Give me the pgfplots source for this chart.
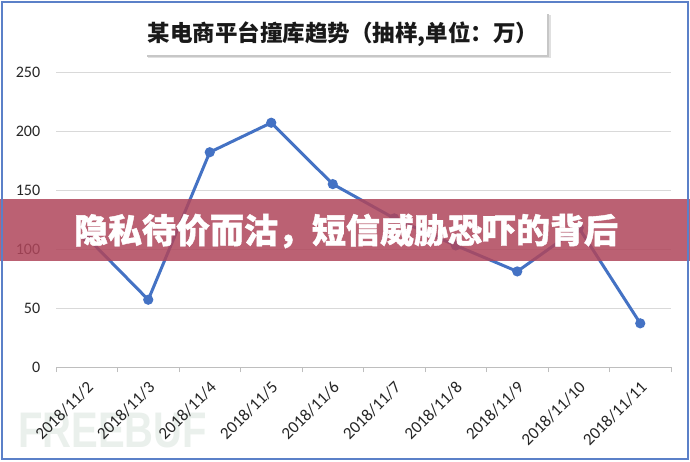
\documentclass[border=0pt]{standalone}
\usepackage{fontspec}
\setmainfont{Carlito}
\newfontfamily\cjk{Noto Sans CJK SC}
\newfontfamily\cjkheavy[BoldFeatures={FakeBold=1.2}]{Noto Sans CJK SC}
\newfontfamily\wm{Liberation Sans}
\usepackage{pgfplots}
\pgfplotsset{compat=1.18}
\definecolor{lineblue}{RGB}{68,114,196}
\definecolor{bannerc}{RGB}{176,70,91}
\definecolor{gridc}{RGB}{217,217,217}
\definecolor{frameblue}{RGB}{91,128,200}
\definecolor{wmc}{RGB}{234,240,236}
\begin{document}
\begin{tikzpicture}[x=1pt,y=1pt]
\path[use as bounding box] (0,0) rectangle (690,461);
\fill[white] (0,0) rectangle (690,461);
\node[anchor=south west, inner sep=0, text=wmc, font=\wm\bfseries\fontsize{50}{50}\selectfont] at (18,13) {\scalebox{0.8}[1]{FREEBUF}};
\begin{axis}[
  at={(56pt,94pt)}, anchor=south west, scale only axis,
  width=615pt, height=295pt,
  xmin=-0.5, xmax=9.5, ymin=0, ymax=250,
  axis x line*=bottom, axis y line*=left,
  y axis line style={draw=none},
  x axis line style={gridc!70!gray, line width=1pt},
  xtick={0,...,9},
  xticklabels={2018/11/2,2018/11/3,2018/11/4,2018/11/5,2018/11/6,2018/11/7,2018/11/8,2018/11/9,2018/11/10,2018/11/11},
  major x tick style={draw=none},
  minor xtick={-0.5,0.5,...,9.5},
  minor x tick style={gridc!70!gray, line width=0.8pt},
  minor tick length=5pt,
  tick align=outside,
  ytick={0,50,...,250},
  ytick style={draw=none},
  ymajorgrids,
  grid style={gridc, line width=1pt},
  xticklabel style={xshift=6pt, yshift=-11pt, rotate=45, anchor=east, font=\fontsize{17}{17}\selectfont, text=black!85},
  yticklabel style={font=\fontsize{16}{16}\selectfont, text=black!85, xshift=-8pt},
  /pgf/number format/assume math mode=true,
  clip=false,
]
\addplot[lineblue, line width=3pt, mark=*, mark size=3.5pt, mark options={fill=lineblue, draw=lineblue}]
  coordinates {(0,110) (1,57) (2,182) (3,207) (4,155) (5,126) (6,103) (7,81) (8,118) (9,37)};
\end{axis}
% title box
\fill[black!12] (148,403) rectangle (551,446);
\fill[black!22] (147,404) rectangle (549,447);
\fill[white] (145,406) rectangle (547,449);
\node[font=\cjk\bfseries\fontsize{22.5}{22.5}\selectfont, text=black!90] at (343,427) {某电商平台撞库趋势（抽样,单位：万）};
% banner
\fill[bannerc, opacity=0.85] (0,200) rectangle (690,262);
\node[font=\cjkheavy\bfseries\fontsize{34}{34}\selectfont, text=white] at (346,230) {隐私待价而沽，短信威胁恐吓的背后};
% frame
\draw[frameblue, line width=2pt] (2,2) rectangle (688,459);
\end{tikzpicture}
\end{document}
